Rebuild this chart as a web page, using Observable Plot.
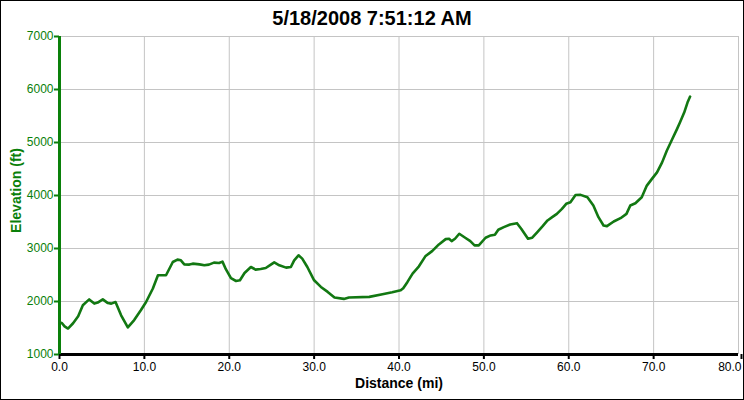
<!DOCTYPE html>
<html><head><meta charset="utf-8">
<script src="https://cdn.jsdelivr.net/npm/d3@7"></script>
<script src="https://cdn.jsdelivr.net/npm/@observablehq/plot@0.6"></script>
<style>
body{margin:0;background:#fff}
#wrap{position:relative;width:744px;height:400px;overflow:hidden}
#title{position:absolute;left:0;top:7px;width:744px;text-align:center;font:bold 20px "Liberation Sans",Arial,sans-serif;color:#000}
#frame{position:absolute;left:0;top:0;width:744px;height:400px;box-sizing:border-box;border:1px solid #000;pointer-events:none}
</style></head><body>
<div id="wrap"><div id="chart"></div><div id="title">5/18/2008 7:51:12 AM</div><div id="frame"></div></div>
<script>
const titleText = "5/18/2008 7:51:12 AM";
const xLabel = "Distance (mi)";
const yLabel = "Elevation (ft)";
const xTicks = [0,10,20,30,40,50,60,70,80];
const yTicks = [1000,2000,3000,4000,5000,6000,7000];
const distance = [0.0,0.3,0.6,1.0,1.6,2.2,2.75,3.5,4.1,4.5,5.1,5.7,6.1,6.6,7.26,8.05,8.8,9.6,10.2,11.0,11.6,12.55,13.35,13.9,14.3,14.7,15.3,15.7,16.5,17.06,17.6,18.2,18.8,19.2,19.6,20.2,20.8,21.26,21.8,22.55,23.1,23.7,24.3,24.9,25.3,25.9,26.7,27.26,27.65,28.16,28.6,29.2,30.0,30.8,31.6,32.4,33.5,34.1,36.5,38.05,39.2,40.2,40.5,41.0,41.6,42.35,43.1,43.9,44.7,45.5,45.9,46.2,46.6,47.1,47.8,48.4,48.9,49.4,50.2,50.8,51.3,51.7,52.35,53.1,53.9,54.4,55.2,55.7,56.3,56.9,57.5,58.05,58.6,59.2,59.7,60.2,60.8,61.4,62.2,62.9,63.5,64.1,64.5,65.3,66.1,66.8,67.25,67.85,68.6,69.2,69.8,70.4,71.0,71.55,72.2,72.75,73.1,73.6,73.99,74.3];
const elevation = [1610,1590,1530,1490,1590,1720,1930,2040,1960,1980,2040,1970,1960,1990,1740,1510,1650,1840,1990,2245,2495,2495,2745,2790,2777,2700,2696,2714,2700,2683,2696,2733,2726,2752,2610,2440,2387,2400,2538,2651,2602,2613,2632,2696,2739,2683,2639,2651,2777,2871,2809,2651,2400,2275,2181,2075,2049,2075,2087,2137,2175,2213,2250,2369,2527,2664,2852,2951,3077,3177,3184,3139,3184,3278,3203,3139,3059,3059,3203,3247,3260,3354,3403,3453,3478,3372,3184,3203,3309,3416,3529,3591,3654,3749,3843,3873,4010,4012,3967,3811,3591,3435,3422,3510,3572,3654,3811,3854,3967,4187,4313,4437,4625,4845,5065,5253,5377,5565,5753,5866];
const data = distance.map((d, i) => ({d, e: elevation[i]}));
const green = "#0a800a";
const lastTick = xTicks[xTicks.length - 1];
const fmtX = d3.format(".1f");
const chart = Plot.plot({
  width: 744, height: 400,
  marginLeft: 59, marginRight: 6, marginTop: 36, marginBottom: 46,
  style: {fontFamily: "'Liberation Sans', Arial, sans-serif", fontSize: "12px", background: "white"},
  x: {domain: [0, 80]},
  y: {domain: [1000, 7000]},
  marks: [
    Plot.gridX(xTicks.filter(t => t > 0), {stroke: "#c4c4c4", strokeOpacity: 1}),
    Plot.gridY(yTicks.filter(t => t > 1000), {stroke: "#c4c4c4", strokeOpacity: 1}),
    Plot.axisX(xTicks.filter(t => t < lastTick), {tickSize: 5, tickPadding: 3, stroke: "#000", strokeWidth: 2, fill: "#000", tickFormat: fmtX, label: null}),
    Plot.axisX([lastTick], {tickSize: 5, tickPadding: 3, stroke: "#000", strokeWidth: 2, fill: "#000", tickFormat: fmtX, label: null, textAnchor: "end", dx: 3}),
    Plot.axisY(yTicks, {tickSize: 5, tickPadding: 1, stroke: green, strokeWidth: 2, fill: green, tickFormat: d3.format("d"), label: null}),
    Plot.ruleY([1000], {stroke: "#000", strokeWidth: 3}),
    Plot.ruleX([0], {stroke: green, strokeWidth: 3}),
    Plot.line(data, {x: "d", y: "e", stroke: "#127812", strokeWidth: 2.6}),
    Plot.text([xLabel], {text: d => d, frameAnchor: "bottom", lineAnchor: "middle", dy: 29, fontWeight: "bold", fontSize: 14, fill: "#000"}),
    Plot.text([yLabel], {text: d => d, frameAnchor: "left", textAnchor: "middle", lineAnchor: "middle", dx: -43, dy: -5, rotate: -90, fontWeight: "bold", fontSize: 14, fill: green})
  ]
});
document.getElementById("chart").append(chart);
document.getElementById("title").textContent = titleText;
</script>
</body></html>
